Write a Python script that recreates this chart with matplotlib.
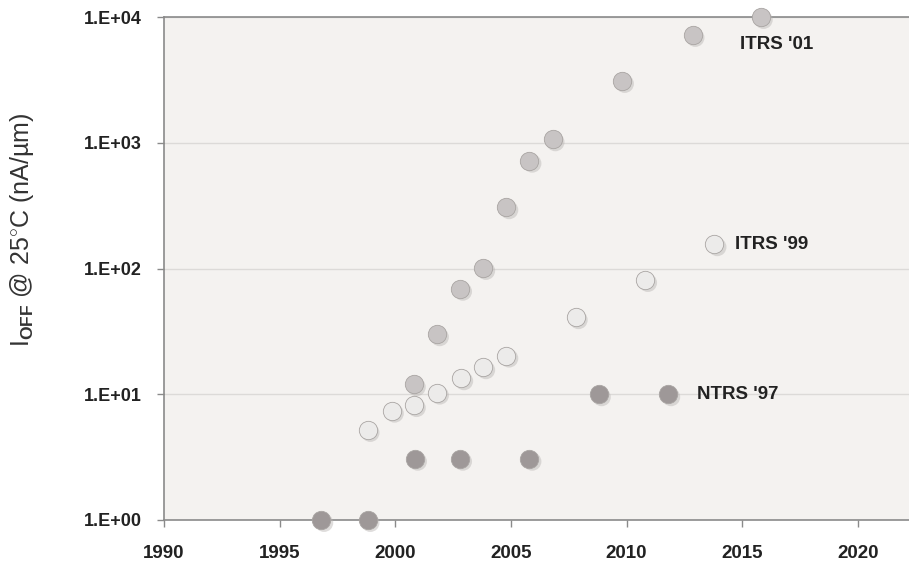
import matplotlib
matplotlib.use('Agg')
import matplotlib.pyplot as plt
import matplotlib.transforms as mtransforms

plt.rcParams['font.family'] = ['Liberation Sans', 'DejaVu Sans']
plt.rcParams['mathtext.fontset'] = 'custom'
plt.rcParams['mathtext.rm'] = 'Liberation Sans'
plt.rcParams['mathtext.bf'] = 'Liberation Sans:bold'

# ITRS '01
itrs01_year = [2000.8, 2001.8, 2002.8, 2003.8, 2004.8, 2005.8, 2006.8, 2009.8, 2012.85, 2015.8]
itrs01_ioff = [12, 30, 69, 101, 307, 720, 1065, 3100, 7200, 10000]

# ITRS '99
itrs99_year = [1998.8, 1999.85, 2000.8, 2001.8, 2002.85, 2003.8, 2004.8, 2007.8, 2010.8, 2013.8]
itrs99_ioff = [5.2, 7.4, 8.2, 10.3, 13.4, 16.4, 20.3, 41, 81, 156]

# NTRS '97
ntrs97_year = [1996.8, 1998.8, 2000.85, 2002.8, 2005.8, 2008.8, 2011.8]
ntrs97_ioff = [1, 1, 3.07, 3.07, 3.07, 10, 10]

series = [
    (ntrs97_year, ntrs97_ioff, '#9e9898', "NTRS '97", 2013.05, 10),
    (itrs99_year, itrs99_ioff, '#ecebea', "ITRS '99", 2014.7, 154),
    (itrs01_year, itrs01_ioff, '#c8c4c4', "ITRS '01", 2014.9, 5990),
]

x_ticks = [1990, 1995, 2000, 2005, 2010, 2015, 2020]
y_ticks = [1, 10, 100, 1000, 10000]
y_labels = ['1.E+00', '1.E+01', '1.E+02', '1.E+03', '1.E+04']

fig = plt.figure(figsize=(9.09, 5.68), dpi=100)
ax = fig.add_axes([164 / 909, 1 - 520 / 568, 1 - 164 / 909, 503 / 568])
ax.set_facecolor('#f4f2f0')
ax.set_yscale('log')
ax.set_xlim(1990, 1990 + (909 - 164) / 23.13)
ax.set_ylim(1, 10000)

for yv in y_ticks[1:]:
    ax.axhline(yv, color='#dcdad8', linewidth=1.0, zorder=1)

shadow = mtransforms.offset_copy(ax.transData, fig=fig, x=2.0, y=-2.0, units='points')
for xs, ys, col, name, lx, ly in series:
    ax.scatter(xs, ys, s=175, color='#b8b4b2', alpha=0.45, edgecolors='none',
               transform=shadow, zorder=3, clip_on=False)
    ax.scatter(xs, ys, s=175, color=col, edgecolors='#a9a5a3', linewidths=0.6,
               zorder=4, clip_on=False)
    ax.text(lx, ly, name, fontsize=13.5, fontweight='bold', color='#222222',
            ha='left', va='center', zorder=5)

ax.set_xticks(x_ticks)
ax.set_xticklabels([str(t) for t in x_ticks], fontsize=13.5, fontweight='bold', color='#222222')
ax.set_yticks(y_ticks)
ax.set_yticklabels(y_labels, fontsize=13, fontweight='bold', color='#222222')
ax.yaxis.set_minor_locator(matplotlib.ticker.NullLocator())
ax.tick_params(axis='both', color='#8a8a8a', length=5, width=1, direction='out')
ax.tick_params(axis='x', pad=13)
ax.tick_params(axis='y', pad=11)

for side in ['left', 'bottom', 'top']:
    ax.spines[side].set_color('#8a8a8a')
    ax.spines[side].set_linewidth(1.2)
ax.spines['right'].set_visible(False)

fig.text(22 / 909, 1 - 230 / 568, r'I$_{\mathbf{OFF}}$ @ 25$^{\circ}$C (nA/µm)',
         rotation=90, ha='center', va='center', fontsize=18, color='#333333')

fig.savefig('out.png', dpi=100, facecolor='white')
